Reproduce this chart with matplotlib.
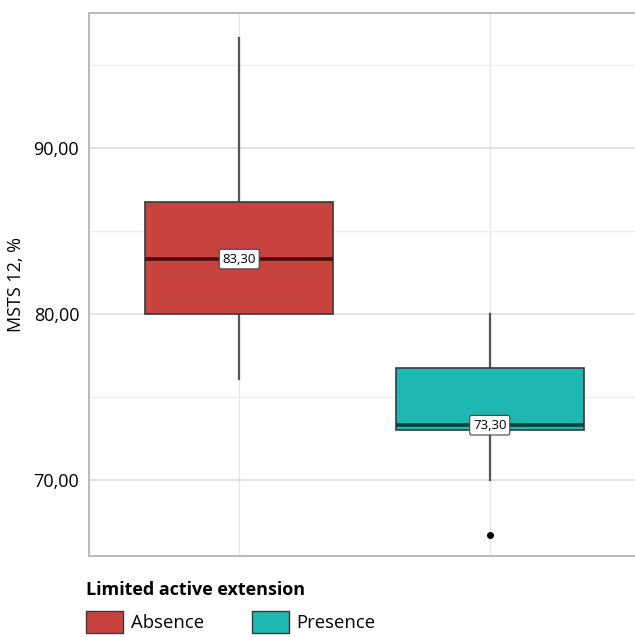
import matplotlib.pyplot as plt
from matplotlib.patches import Patch

plt.rcParams['font.family'] = ['Open Sans', 'DejaVu Sans']

# data
groups = ["Absence", "Presence"]
colors = ["#C8433E", "#1DB8B1"]
median_colors = ["#4A0E0C", "#0F3F3C"]
whislo = [76.1, 70.0]
q1 = [80.0, 73.0]
med = [83.3, 73.3]
q3 = [86.75, 76.75]
whishi = [96.6, 80.0]
outliers = [[], [66.7]]
yticks = [70, 80, 90]

fig = plt.figure(figsize=(6.35, 6.37), dpi=100)
ax = fig.add_axes([0.140, 0.127, 0.868, 0.853])

stats = []
for i in range(len(groups)):
    stats.append({"label": groups[i], "whislo": whislo[i], "q1": q1[i], "med": med[i],
                  "q3": q3[i], "whishi": whishi[i], "fliers": outliers[i]})

bp = ax.bxp(stats, positions=[1, 2], widths=0.75, patch_artist=True, showcaps=False,
            whiskerprops=dict(color="#555555", lw=1.6),
            flierprops=dict(marker="o", markerfacecolor="black", markeredgecolor="black", markersize=4),
            boxprops=dict(lw=1.2))
for i, b in enumerate(bp["boxes"]):
    b.set_facecolor(colors[i])
    b.set_edgecolor("#3a3a3a")
    b.set_zorder(3)
for i, m in enumerate(bp["medians"]):
    m.set_color(median_colors[i])
    m.set_linewidth(2.6)
    m.set_zorder(4)
    ax.text(i + 1, med[i], f"{med[i]:.2f}".replace(".", ","), ha="center", va="center",
            fontsize=9.5, zorder=5,
            bbox=dict(boxstyle="round,pad=0.25,rounding_size=0.15", fc="white", ec="#444444", lw=0.8))

ax.set_xlim(0.4, 2.6)
ax.set_ylim(65.42, 98.13)
ax.set_yticks(yticks)
ax.set_yticklabels([f"{t:.2f}".replace(".", ",") for t in yticks], fontsize=13)
ax.set_yticks([75, 85, 95], minor=True)
ax.tick_params(axis="y", which="both", length=0, pad=7)
ax.set_xticks([1, 2])
ax.set_xticklabels([])
ax.tick_params(axis="x", length=0)
ax.grid(True, which="major", axis="y", color="#dddddd", lw=1.2)
ax.grid(True, which="minor", axis="y", color="#eeeeee", lw=1.0)
ax.grid(True, which="major", axis="x", color="#e6e6e6", lw=1.0)
ax.set_axisbelow(True)
for s in ax.spines.values():
    s.set_color("#bbbbbb")
    s.set_linewidth(1.5)
ax.set_ylabel("MSTS 12, %", fontsize=13, labelpad=6)

handles = [Patch(facecolor=colors[i], edgecolor="#3a3a3a", label=groups[i]) for i in range(2)]
leg = fig.legend(handles=handles, loc="upper left", bbox_to_anchor=(0.136, 0.088), ncol=2,
                 frameon=False, fontsize=13.3, title="Limited active extension",
                 title_fontproperties={"weight": "bold", "size": 13},
                 handlelength=2.0, handleheight=1.4, handletextpad=0.4, columnspacing=2.6,
                 borderaxespad=0, borderpad=0.0, labelspacing=0.2)
leg._legend_box.align = "left"
leg._legend_box.sep = 9

fig.savefig("out.png", dpi=100)
